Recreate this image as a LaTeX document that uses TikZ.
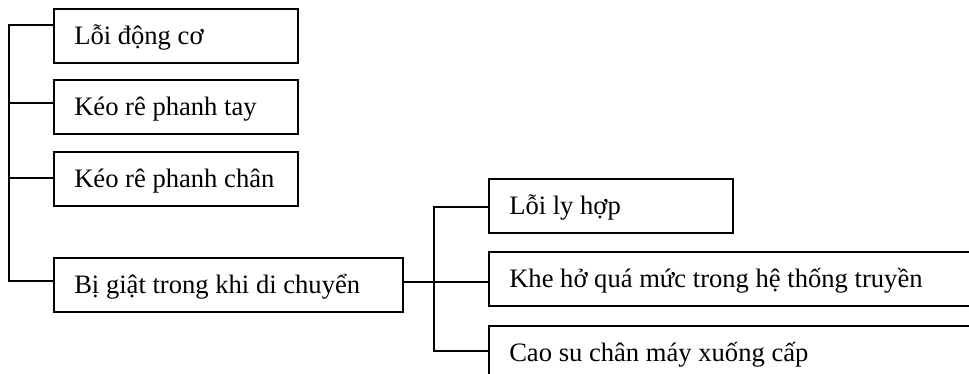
\documentclass[tikz,border=0pt]{standalone}
\usepackage{fontspec}
\setmainfont{Liberation Serif}
\begin{document}
\begin{tikzpicture}[x=1pt,y=-1pt,
  box/.style={draw, line width=1.5pt, anchor=north west, minimum height=54pt,
    inner xsep=0pt, inner ysep=0pt, text height=23.6pt, text depth=6pt,
    align=left, font=\fontsize{26.6}{31}\selectfont,
    execute at begin node={\spaceskip=0pt\xspaceskip=0pt\hspace*{20.5pt}}},
  conn/.style={line width=1.1pt}]
\useasboundingbox (0,0) rectangle (969,373);
\begin{scope}
\clip (0,0) rectangle (969,373);
\node[box, text width=244pt] (b1) at (53,8) {Lỗi động cơ};
\node[box, text width=244pt] (b2) at (53,79) {Kéo rê phanh tay};
\node[box, text width=244pt] (b3) at (53,151) {Kéo rê phanh chân};
\node[box, text width=349pt] (b4) at (53,257) {Bị giật trong khi di chuyển};
\node[box, text width=244pt] (c1) at (488,178) {Lỗi ly hợp};
\node[box, text width=520pt] (c2) at (488,251) {Khe hở quá mức trong hệ thống truyền};
\node[box, text width=520pt] (c3) at (488,325) {Cao su chân máy xuống cấp};
% left tree
\coordinate (l1) at (9,25);
\coordinate (l2) at (9,103);
\coordinate (l3) at (9,178);
\coordinate (l4) at (9,281);
\draw[conn] (l1 -| b1.west) -- (l1) -- (l4) -- (l4 -| b4.west);
\draw[conn] (l2) -- (l2 -| b2.west);
\draw[conn] (l3) -- (l3 -| b3.west);
% right tree
\coordinate (r0) at (434,282);
\coordinate (r1) at (434,207);
\coordinate (r3) at (434,351);
\draw[conn] (r0 -| b4.east) -- (r0 -| c2.west);
\draw[conn] (r1 -| c1.west) -- (r1) -- (r3) -- (r3 -| c3.west);
\end{scope}
\end{tikzpicture}
\end{document}
